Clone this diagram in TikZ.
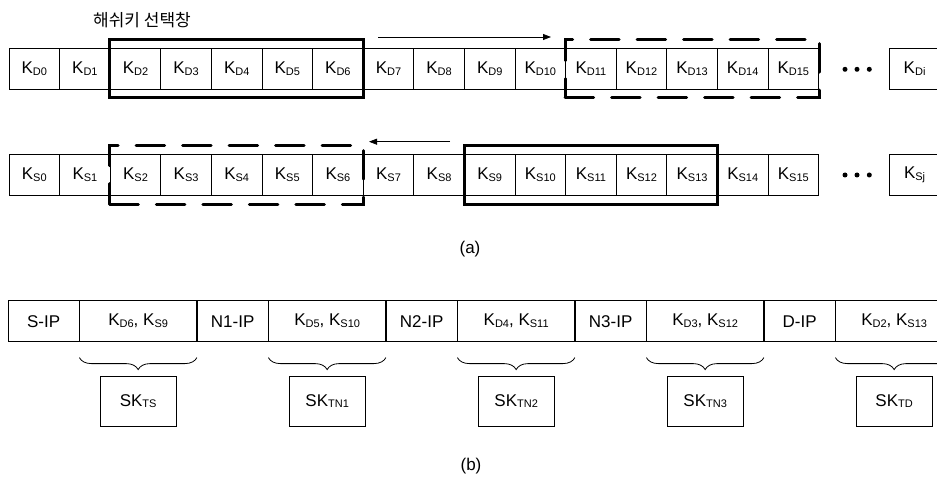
\documentclass[tikz,border=0pt]{standalone}
\usepackage{fontspec}
\setmainfont{Liberation Sans}
\newfontfamily\krfont{Noto Sans CJK KR}
\usetikzlibrary{arrows.meta,fit,decorations.pathreplacing}
\newcommand\subfnt{\fontsize{11}{11}\selectfont}
\newcommand\Kx[1]{K\raisebox{-1.6pt}{\subfnt #1}}
\tikzset{
  cellbox/.style={draw, line width=0.8pt, minimum width=50.6pt, minimum height=41pt, inner sep=0pt, font=\fontsize{17}{17}\selectfont},
  ipbox/.style={draw, line width=0.8pt, minimum width=70.7pt, minimum height=41pt, inner sep=0pt, font=\fontsize{17}{17}\selectfont},
  kbox/.style={draw, line width=0.8pt, minimum width=116.7pt, minimum height=41pt, inner sep=0pt, font=\fontsize{17}{17}\selectfont},
  skbox/.style={draw, line width=0.8pt, minimum width=76pt, minimum height=50pt, inner sep=0pt, font=\fontsize{17}{17}\selectfont},
  winsolid/.style={draw, line width=3pt, inner xsep=0pt, inner ysep=8pt},
  windash/.style={draw, line width=3pt, inner xsep=0pt, inner ysep=8pt, line cap=round, dash pattern=on 28.5pt off 18pt},
  dotmark/.style={circle, fill=black, inner sep=0pt, minimum size=5pt},
  brc/.style={decorate, decoration={brace, mirror, amplitude=12pt}, line width=0.8pt},
  slidearrow/.style={line width=0.8pt, -{Triangle[length=8pt,width=6pt]}},
  lbl/.style={font=\fontsize{17}{17}\selectfont}
}
\begin{document}
\begin{tikzpicture}[x=1pt,y=-1pt]
\useasboundingbox (0,0) rectangle (937,478);
% Korean label
\node[font=\krfont\fontsize{17}{17}\selectfont] (title) at (142,20) {해쉬키 선택창};
% row D
\foreach \i in {0,...,15} {
  \node[cellbox] (d\i) at ({9+50.6*(\i+0.5)},68.5) {\Kx{D\i}};
}
\node[cellbox] (ddi) at (914.6,68.8) {\Kx{Di}};
\node[dotmark] (dd1) at (845,69.3) {};
\node[dotmark] (dd2) at (857,69.3) {};
\node[dotmark] (dd3) at (869.3,69.3) {};
\node[winsolid, fit=(d2)(d6)] (wd1) {};
\node[windash, fit=(d11)(d15)] (wd2) {};
\coordinate (ad1) at (378,37);
\coordinate (ad2) at (551,37);
\draw[slidearrow] (ad1) -- (ad2);
% row S
\foreach \i in {0,...,15} {
  \node[cellbox] (s\i) at ({9+50.6*(\i+0.5)},175) {\Kx{S\i}};
}
\node[cellbox] (ssj) at (914.6,175) {\Kx{Sj}};
\node[dotmark] (sd1) at (845,175) {};
\node[dotmark] (sd2) at (857,175) {};
\node[dotmark] (sd3) at (869.3,175) {};
\node[windash, fit=(s2)(s6), inner ysep=8.5pt] (ws1) {};
\node[winsolid, fit=(s9)(s13), inner ysep=8.5pt] (ws2) {};
\coordinate (as1) at (450,141.7);
\coordinate (as2) at (369,141.7);
\draw[slidearrow] (as1) -- (as2);
\node[lbl] (capa) at (470,249) {(a)};
% part b
\node[ipbox] (b1) at ({8.3+35.35},321.2) {S-IP};
\node[kbox, anchor=west] (b2) at (b1.east) {\Kx{D6}, \Kx{S9}};
\node[ipbox, anchor=west] (b3) at (b2.east) {N1-IP};
\node[kbox, anchor=west] (b4) at (b3.east) {\Kx{D5}, \Kx{S10}};
\node[ipbox, anchor=west] (b5) at (b4.east) {N2-IP};
\node[kbox, anchor=west] (b6) at (b5.east) {\Kx{D4}, \Kx{S11}};
\node[ipbox, anchor=west] (b7) at (b6.east) {N3-IP};
\node[kbox, anchor=west] (b8) at (b7.east) {\Kx{D3}, \Kx{S12}};
\node[ipbox, anchor=west] (b9) at (b8.east) {D-IP};
\node[kbox, anchor=west] (b10) at (b9.east) {\Kx{D2}, \Kx{S13}};
\foreach \c/\t in {b2/TS, b4/TN1, b6/TN2, b8/TN3, b10/TD} {
  \draw[brc] ([yshift=-15.5pt]\c.south west) -- ([yshift=-15.5pt]\c.south east);
  \node[skbox, anchor=north] (sk\c) at ([yshift=-33.5pt]\c.south) {SK\raisebox{-1.6pt}{\subfnt \t}};
}
\node[lbl] (capb) at (471,466) {(b)};
\end{tikzpicture}
\end{document}
